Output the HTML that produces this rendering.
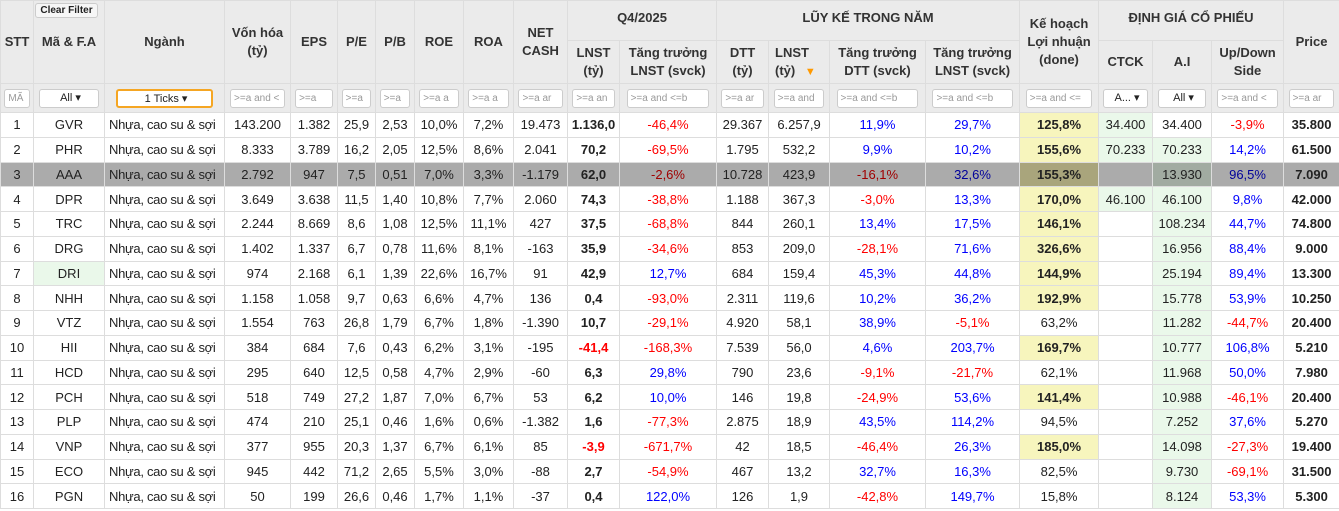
<!DOCTYPE html>
<html><head><meta charset="utf-8">
<style>
*{box-sizing:border-box;margin:0;padding:0}
body{width:1339px;height:511px;overflow:hidden;background:#fff;font-family:"Liberation Sans",Arial,sans-serif;font-size:13px;color:#222}
table{border-collapse:collapse;table-layout:fixed;width:1339px;position:absolute;left:0;top:0}
th,td{border:1px solid #ddd;text-align:center;white-space:nowrap;overflow:hidden}
th{background:#ebebeb;font-weight:bold;color:#333;font-size:13px;line-height:18px}
td{height:24.75px;padding:0 2px}
td.sec{text-align:left;padding-left:4px;letter-spacing:-0.3px}
tr.f td{background:#ebebeb;height:29px}
.in{display:inline-block;border:1px solid #ccc;border-radius:3px;background:#fff;height:19px;line-height:17px;font-size:10px;color:#999;width:90%;overflow:hidden;text-align:left;padding-left:3px;vertical-align:middle}
.sel{color:#222;font-size:11px;text-align:center}
.b{font-weight:bold}
.r{color:#f00}.u{color:#00f}
.y{background:#f7f5bd;font-weight:bold}
.g{background:#eaf8ea}
tr.hl td{background:#ababab}
tr.hl td.y{background:#a9a57c}
tr.hl td.g{background:#a1aba1}
tr.hl .r{color:#a00000}tr.hl .u{color:#00009a}
.cf{position:absolute;left:35px;top:3px;width:63px;height:15px;border:1px solid #ccc;border-radius:3px;background:#f6f6f6;font-size:10px;font-weight:bold;line-height:13px;text-align:center}
</style></head><body>
<table>
<colgroup><col style="width:33px"><col style="width:71px"><col style="width:120px"><col style="width:66px"><col style="width:47px"><col style="width:38px"><col style="width:39px"><col style="width:49px"><col style="width:50px"><col style="width:54px"><col style="width:52px"><col style="width:97px"><col style="width:52px"><col style="width:61px"><col style="width:96px"><col style="width:94px"><col style="width:79px"><col style="width:54px"><col style="width:59px"><col style="width:72px"><col style="width:56px"></colgroup>
<thead>
<tr style="height:40px">
<th rowspan="2">STT</th>
<th rowspan="2">Mã &amp; F.A</th>
<th rowspan="2">Ngành</th>
<th rowspan="2">Vốn hóa<br>(tỷ)</th>
<th rowspan="2">EPS</th>
<th rowspan="2">P/E</th>
<th rowspan="2">P/B</th>
<th rowspan="2">ROE</th>
<th rowspan="2">ROA</th>
<th rowspan="2">NET<br>CASH</th>
<th colspan="2" style="vertical-align:top;padding-top:8px">Q4/2025</th>
<th colspan="4" style="vertical-align:top;padding-top:8px">LŨY KẾ TRONG NĂM</th>
<th rowspan="2">Kế hoạch<br>Lợi nhuận<br>(done)</th>
<th colspan="3" style="vertical-align:top;padding-top:8px">ĐỊNH GIÁ CỔ PHIẾU</th>
<th rowspan="2">Price</th>
</tr>
<tr style="height:43px">
<th>LNST<br>(tỷ)</th>
<th>Tăng trưởng<br>LNST (svck)</th>
<th>DTT<br>(tỷ)</th>
<th style="text-align:left;padding-left:6px">LNST<br>(tỷ) <span style="color:#f90;font-size:11px;padding-left:6px">▼</span></th>
<th>Tăng trưởng<br>DTT (svck)</th>
<th>Tăng trưởng<br>LNST (svck)</th>
<th>CTCK</th>
<th>A.I</th>
<th>Up/Down<br>Side</th>
</tr>
</thead>
<tbody id="tb">
<tr class="f" id="fr"></tr>
</tbody></table>
<div class="cf">Clear Filter</div>
<script>
const filters=[["MÃ",0],["All ▾",1],["1 Ticks ▾",2],[">=a and <",0],[">=a",0],[">=a",0],[">=a",0],[">=a a",0],[">=a a",0],[">=a ar",0],[">=a an",0],[">=a and <=b",0],[">=a ar",0],[">=a and",0],[">=a and <=b",0],[">=a and <=b",0],[">=a and <=",0],["A... ▾",1],["All ▾",1],[">=a and <",0],[">=a ar",0]];
const fr=document.getElementById('fr');
filters.forEach((f,i)=>{const td=document.createElement('td');
const s=document.createElement('span');
s.className='in'+(f[1]?' sel':'');
if(f[1]==2){s.style.border='2px solid #f5a623';s.style.width='85%';}
s.textContent=f[0];


td.appendChild(s);


fr.appendChild(td);});
const tickers=["GVR","PHR","AAA","DPR","TRC","DRG","DRI","NHH","VTZ","HII","HCD","PCH","PLP","VNP","ECO","PGN"];
const mcap=["143.200","8.333","2.792","3.649","2.244","1.402","974","1.158","1.554","384","295","518","474","377","945","50"];
const eps=["1.382","3.789","947","3.638","8.669","1.337","2.168","1.058","763","684","640","749","210","955","442","199"];
const pe=["25,9","16,2","7,5","11,5","8,6","6,7","6,1","9,7","26,8","7,6","12,5","27,2","25,1","20,3","71,2","26,6"];
const pb=["2,53","2,05","0,51","1,40","1,08","0,78","1,39","0,63","1,79","0,43","0,58","1,87","0,46","1,37","2,65","0,46"];
const roe=["10,0%","12,5%","7,0%","10,8%","12,5%","11,6%","22,6%","6,6%","6,7%","6,2%","4,7%","7,0%","1,6%","6,7%","5,5%","1,7%"];
const roa=["7,2%","8,6%","3,3%","7,7%","11,1%","8,1%","16,7%","4,7%","1,8%","3,1%","2,9%","6,7%","0,6%","6,1%","3,0%","1,1%"];
const netcash=["19.473","2.041","-1.179","2.060","427","-163","91","136","-1.390","-195","-60","53","-1.382","85","-88","-37"];
const q4lnst=["1.136,0","70,2","62,0","74,3","37,5","35,9","42,9","0,4","10,7","-41,4","6,3","6,2","1,6","-3,9","2,7","0,4"];
const q4g=["-46,4%","-69,5%","-2,6%","-38,8%","-68,8%","-34,6%","12,7%","-93,0%","-29,1%","-168,3%","29,8%","10,0%","-77,3%","-671,7%","-54,9%","122,0%"];
const dtt=["29.367","1.795","10.728","1.188","844","853","684","2.311","4.920","7.539","790","146","2.875","42","467","126"];
const ylnst=["6.257,9","532,2","423,9","367,3","260,1","209,0","159,4","119,6","58,1","56,0","23,6","19,8","18,9","18,5","13,2","1,9"];
const dttg=["11,9%","9,9%","-16,1%","-3,0%","13,4%","-28,1%","45,3%","10,2%","38,9%","4,6%","-9,1%","-24,9%","43,5%","-46,4%","32,7%","-42,8%"];
const lnstg=["29,7%","10,2%","32,6%","13,3%","17,5%","71,6%","44,8%","36,2%","-5,1%","203,7%","-21,7%","53,6%","114,2%","26,3%","16,3%","149,7%"];
const plan=["125,8%","155,6%","155,3%","170,0%","146,1%","326,6%","144,9%","192,9%","63,2%","169,7%","62,1%","141,4%","94,5%","185,0%","82,5%","15,8%"];
const ctck=["34.400","70.233","","46.100","","","","","","","","","","","",""];
const ai=["34.400","70.233","13.930","46.100","108.234","16.956","25.194","15.778","11.282","10.777","11.968","10.988","7.252","14.098","9.730","8.124"];
const updown=["-3,9%","14,2%","96,5%","9,8%","44,7%","88,4%","89,4%","53,9%","-44,7%","106,8%","50,0%","-46,1%","37,6%","-27,3%","-69,1%","53,3%"];
const price=["35.800","61.500","7.090","42.000","74.800","9.000","13.300","10.250","20.400","5.210","7.980","20.400","5.270","19.400","31.500","5.300"];
const tb=document.getElementById('tb');
const neg=v=>v.trim().startsWith('-');
tickers.forEach((t,i)=>{
const tr=document.createElement('tr');


if(i==2)tr.className='hl';
const pv=parseFloat(plan[i].replace(',','.'));
const cells=[[i+1,''],[t,i==6?'g':''],["Nhựa, cao su & sợi",'sec'],[mcap[i],''],[eps[i],''],[pe[i],''],[pb[i],''],[roe[i],''],[roa[i],''],[netcash[i],''],
[q4lnst[i],'b'+(neg(q4lnst[i])?' r':'')],[q4g[i],neg(q4g[i])?'r':'u'],[dtt[i],''],[ylnst[i],''],[dttg[i],neg(dttg[i])?'r':'u'],[lnstg[i],neg(lnstg[i])?'r':'u'],
[plan[i],pv>=100?'y':''],[ctck[i],ctck[i]?'g':''],[ai[i],i>0?'g':''],[updown[i],neg(updown[i])?'r':'u'],[price[i],'b']];
cells.forEach((c,j)=>{const td=document.createElement('td');td.textContent=c[0];if(c[1])td.className=c[1];


tr.appendChild(td);});
tb.appendChild(tr);});
</script>
</body></html>
